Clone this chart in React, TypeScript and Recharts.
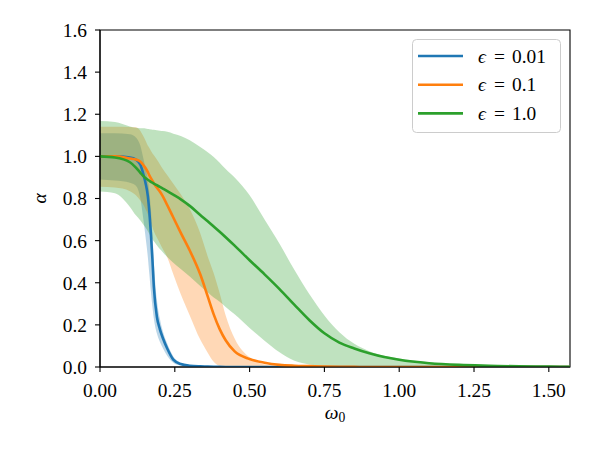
import {
  ComposedChart,
  Area,
  Line,
  XAxis,
  YAxis,
  Label,
  Legend,
  ReferenceArea,
} from 'recharts';

// frequency grid shared by all three runs
const omega = [
  0, 0.05, 0.1, 0.12, 0.135, 0.145, 0.152, 0.16,
  0.165, 0.17, 0.175, 0.18, 0.19, 0.2, 0.21, 0.225,
  0.245, 0.27, 0.3, 0.335, 0.36, 0.38, 0.4, 0.42,
  0.45, 0.5, 0.55, 0.6, 0.65, 0.7, 0.75, 0.8, 0.85,
  0.9, 0.95, 1.0, 1.1, 1.2, 1.3, 1.4, 1.5, 1.5708,
];

// eps = 0.01
const blueMean = [
  1.0, 1.0, 0.995, 0.985, 0.96, 0.915, 0.875, 0.81,
  0.735, 0.635, 0.515, 0.38, 0.24, 0.18, 0.138, 0.087,
  0.035, 0.014, 0.006, 0.003, 0.002, 0.001, 0.0005, 0.0003,
  0, 0, 0, 0, 0, 0, 0, 0, 0,
  0, 0, 0, 0, 0, 0, 0, 0, 0,
];
const blueLow = [
  0.89, 0.885, 0.875, 0.86, 0.8, 0.7, 0.62, 0.52,
  0.44, 0.36, 0.29, 0.23, 0.16, 0.12, 0.09, 0.052,
  0.02, 0.007, 0.003, 0.001, 0, 0, 0, 0,
  0, 0, 0, 0, 0, 0, 0, 0, 0,
  0, 0, 0, 0, 0, 0, 0, 0, 0,
];
const blueHigh = [
  1.11, 1.11, 1.105, 1.09, 1.05, 0.99, 0.945, 0.89,
  0.83, 0.75, 0.64, 0.5, 0.32, 0.23, 0.17, 0.11,
  0.05, 0.02, 0.009, 0.004, 0.003, 0.002, 0.001, 0.0005,
  0, 0, 0, 0, 0, 0, 0, 0, 0,
  0, 0, 0, 0, 0, 0, 0, 0, 0,
];

// eps = 0.1
const orangeMean = [
  1.0, 1.0, 0.99, 0.985, 0.975, 0.958, 0.945, 0.925,
  0.91, 0.897, 0.885, 0.872, 0.852, 0.833, 0.81, 0.768,
  0.71, 0.637, 0.553, 0.44, 0.335, 0.25, 0.18, 0.127,
  0.074, 0.038, 0.02, 0.01, 0.006, 0.004, 0.002, 0.001, 0.0005,
  0, 0, 0, 0, 0, 0, 0, 0, 0,
];
const orangeLow = [
  0.856, 0.852, 0.835, 0.815, 0.79, 0.77, 0.75, 0.725,
  0.705, 0.685, 0.665, 0.645, 0.615, 0.588, 0.56, 0.52,
  0.44, 0.345, 0.245, 0.13, 0.068, 0.025, 0.005, 0.001,
  0, 0, 0, 0, 0, 0, 0, 0, 0,
  0, 0, 0, 0, 0, 0, 0, 0, 0,
];
const orangeHigh = [
  1.141, 1.141, 1.14, 1.138, 1.12, 1.095, 1.075, 1.05,
  1.04, 1.027, 1.015, 1.005, 0.985, 0.963, 0.94, 0.91,
  0.87, 0.82, 0.75, 0.635, 0.525, 0.445, 0.35, 0.245,
  0.135, 0.045, 0.012, 0.004, 0.001, 0, 0, 0, 0,
  0, 0, 0, 0, 0, 0, 0, 0, 0,
];

// eps = 1.0
const greenMean = [
  1.0, 0.995, 0.972, 0.947, 0.922, 0.906, 0.897, 0.889,
  0.884, 0.879, 0.875, 0.871, 0.863, 0.855, 0.847, 0.835,
  0.818, 0.796, 0.765, 0.722, 0.692, 0.667, 0.642, 0.616,
  0.576, 0.507, 0.44, 0.37, 0.295, 0.222, 0.16, 0.116, 0.088,
  0.065, 0.047, 0.034, 0.018, 0.01, 0.006, 0.003, 0.002, 0.001,
];
const greenLow = [
  0.833, 0.825, 0.76, 0.72, 0.695, 0.675, 0.662, 0.645,
  0.632, 0.62, 0.608, 0.597, 0.578, 0.56, 0.545, 0.522,
  0.495, 0.465, 0.43, 0.385, 0.355, 0.33, 0.31, 0.285,
  0.25, 0.185, 0.125, 0.07, 0.03, 0.012, 0.004, 0.001, 0,
  0, 0, 0, 0, 0, 0, 0, 0, 0,
];
const greenHigh = [
  1.168, 1.163, 1.142, 1.136, 1.134, 1.133, 1.132, 1.13,
  1.129, 1.128, 1.127, 1.126, 1.124, 1.122, 1.12, 1.117,
  1.108, 1.097, 1.077, 1.045, 1.02, 0.997, 0.97, 0.94,
  0.9, 0.815, 0.7, 0.585, 0.46, 0.345, 0.245, 0.165, 0.11,
  0.075, 0.053, 0.04, 0.022, 0.012, 0.007, 0.004, 0.003, 0.002,
];

const xTicks = [0, 0.25, 0.5, 0.75, 1.0, 1.25, 1.5];
const yTicks = [0, 0.2, 0.4, 0.6, 0.8, 1.0, 1.2, 1.4, 1.6];

const series = [
  { key: 'blue', eps: '0.01', color: '#1f77b4' },
  { key: 'orange', eps: '0.1', color: '#ff7f0e' },
  { key: 'green', eps: '1.0', color: '#2ca02c' },
];

const FONT = '"Liberation Serif", "DejaVu Serif", serif';
const FONT_SIZE = 19.4;
const LINE_W = 2.6;

const rows = omega.map((w, i) => ({
  w,
  blue: blueMean[i],
  blueBand: [blueLow[i], blueHigh[i]],
  orange: orangeMean[i],
  orangeBand: [orangeLow[i], orangeHigh[i]],
  green: greenMean[i],
  greenBand: [greenLow[i], greenHigh[i]],
}));

function XTitle({ viewBox }: any) {
  const cx = viewBox.x + viewBox.width / 2;
  return (
    <text x={cx} y={viewBox.y + 52} textAnchor="middle" fontFamily={FONT} fontSize={FONT_SIZE} fill="#000">
      <tspan fontStyle="italic">ω</tspan>
      <tspan fontSize={13.6} dy={3}>0</tspan>
    </text>
  );
}

function YTitle({ viewBox }: any) {
  const cy = viewBox.y + viewBox.height / 2;
  return (
    <text
      x={46}
      y={cy}
      textAnchor="middle"
      fontFamily={FONT}
      fontSize={FONT_SIZE}
      fontStyle="italic"
      fill="#000"
      transform={`rotate(-90, 46, ${cy})`}
    >
      α
    </text>
  );
}

function LegendBox() {
  return (
    <svg width={150} height={96} style={{ display: 'block' }}>
      <rect x={0.5} y={0.5} width={148} height={93} rx={4} fill="#fff" fillOpacity={0.8} stroke="#cccccc" />
      {series.map((s, i) => {
        const y = 17 + i * 28.7;
        return (
          <g key={s.key} fontFamily={FONT} fontSize={FONT_SIZE} fill="#000">
            <line x1={6} x2={51} y1={y} y2={y} stroke={s.color} strokeWidth={LINE_W} />
            <text x={66} y={y + 6.5} fontStyle="italic">ϵ</text>
            <text x={82} y={y + 6.5}>=</text>
            <text x={100} y={y + 6.5}>{s.eps}</text>
          </g>
        );
      })}
    </svg>
  );
}

export default function App() {
  const tickStyle = { fill: '#000', fontSize: FONT_SIZE, fontFamily: FONT };
  return (
    <div style={{ position: 'absolute', left: 0, top: 0, width: 600, height: 450, background: '#fff' }}>
      <ComposedChart width={600} height={450} data={rows} margin={{ top: 30, right: 30, bottom: 0, left: 0 }}>
        <XAxis
          dataKey="w"
          type="number"
          domain={[0, 1.5708]}
          allowDataOverflow
          ticks={xTicks}
          tickFormatter={(v) => v.toFixed(2)}
          height={83}
          tick={tickStyle}
          tickSize={5}
          tickMargin={11}
          stroke="#000"
          strokeWidth={1.1}
        >
          <Label content={XTitle} />
        </XAxis>
        <YAxis
          type="number"
          domain={[0, 1.6]}
          allowDataOverflow
          ticks={yTicks}
          tickFormatter={(v) => v.toFixed(1)}
          width={100}
          tick={tickStyle}
          tickSize={5}
          tickMargin={8}
          stroke="#000"
          strokeWidth={1.1}
        >
          <Label content={YTitle} />
        </YAxis>

        <Area dataKey="blueBand" type="monotone" stroke="none" fill="#1f77b4" fillOpacity={0.3} isAnimationActive={false} activeDot={false} />
        <Area dataKey="orangeBand" type="monotone" stroke="none" fill="#ff7f0e" fillOpacity={0.3} isAnimationActive={false} activeDot={false} />
        <Area dataKey="greenBand" type="monotone" stroke="none" fill="#2ca02c" fillOpacity={0.3} isAnimationActive={false} activeDot={false} />

        {series.map((s) => (
          <Line
            key={s.key}
            dataKey={s.key}
            type="monotone"
            stroke={s.color}
            strokeWidth={LINE_W}
            dot={false}
            activeDot={false}
            isAnimationActive={false}
          />
        ))}

        <ReferenceArea x1={0} x2={1.5708} y1={0} y2={1.6} fill="none" stroke="#000" strokeWidth={1.1} />

        <Legend
          layout="vertical"
          align="center"
          verticalAlign="middle"
          wrapperStyle={{ left: 412, top: 39, width: 150, height: 96 }}
          content={() => <LegendBox />}
        />
      </ComposedChart>
    </div>
  );
}
